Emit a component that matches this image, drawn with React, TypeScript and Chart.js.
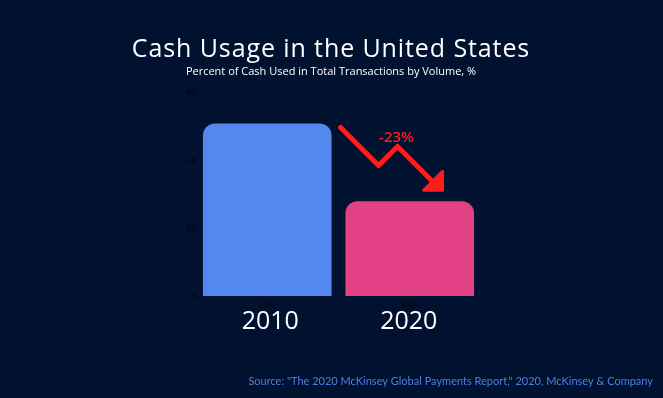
import React, { useEffect, useRef } from "react";
import { Chart, registerables } from "chart.js";

Chart.register(...registerables);

const categories = ["2010", "2020"];
const cashShare = [51, 28];
const yTickValues = [0, 20, 40, 60];
const changeLabel = "-23%";
const titleText = "Cash Usage in the United States";
const subtitleText = "Percent of Cash Used in Total Transactions by Volume, %";
const sourceText = 'Source: "The 2020 McKinsey Global Payments Report," 2020, McKinsey & Company';

const BG = "#011230";
const BAR_COLORS = ["#5588ee", "#e34185"];
const RED = "#ff1c1c";

const decor = {
  id: "decor",
  beforeDraw(chart: any) {
    const { ctx, width, height } = chart;
    ctx.save();
    ctx.fillStyle = BG;
    ctx.fillRect(0, 0, width, height);
    ctx.restore();
  },
  afterDraw(chart: any) {
    const { ctx } = chart;
    const meta = chart.getDatasetMeta(0);
    const b0 = meta.data[0] as any;
    const b1 = meta.data[1] as any;
    ctx.save();
    ctx.fillStyle = "#ffffff";
    ctx.textAlign = "center";
    ctx.textBaseline = "middle";
    (ctx as any).letterSpacing = "0.9px";
    ctx.font = "500 25px 'Open Sans'";
    ctx.fillText(titleText, 331, 50);
    (ctx as any).letterSpacing = "0px";
    ctx.font = "500 11px 'Open Sans'";
    ctx.fillText(subtitleText, 331, 72);
    ctx.font = "500 25px 'Open Sans'";
    categories.forEach((c, i) => {
      const el = meta.data[i] as any;
      ctx.fillText(c, el.x + (i === 0 ? 3 : -1), 322);
    });
    ctx.textAlign = "right";
    ctx.font = "11px Lato";
    ctx.fillStyle = "#4e7fe0";
    ctx.fillText(sourceText, 653, 381);

    const x0 = b0.x + b0.width / 2 + 9;
    const y0 = b0.y + 4;
    const pts = [
      [x0, y0],
      [x0 + 38, y0 + 38],
      [x0 + 57, y0 + 19],
      [x0 + 92, y0 + 54],
    ];
    ctx.strokeStyle = RED;
    ctx.lineWidth = 5;
    ctx.lineCap = "round";
    ctx.lineJoin = "round";
    ctx.beginPath();
    ctx.moveTo(pts[0][0], pts[0][1]);
    for (let i = 1; i < pts.length; i++) ctx.lineTo(pts[i][0], pts[i][1]);
    ctx.stroke();
    const tx = x0 + 102;
    const ty = b1.y - 11;
    ctx.fillStyle = RED;
    ctx.beginPath();
    ctx.moveTo(tx, ty - 19);
    ctx.lineTo(tx, ty);
    ctx.lineTo(tx - 19, ty);
    ctx.closePath();
    ctx.lineWidth = 3;
    ctx.fill();
    ctx.stroke();
    ctx.textAlign = "center";
    ctx.font = "600 15px 'Open Sans'";
    ctx.fillStyle = RED;
    ctx.fillText(changeLabel, x0 + 56, y0 + 10);
    ctx.restore();
  },
};

export default function App() {
  const ref = useRef<HTMLCanvasElement>(null);
  useEffect(() => {
    if (!ref.current) return;
    const chart = new Chart(ref.current, {
      type: "bar",
      data: {
        labels: categories,
        datasets: [
          {
            data: cashShare,
            backgroundColor: BAR_COLORS,
            borderRadius: { topLeft: 12, topRight: 12, bottomLeft: 0, bottomRight: 0 },
            borderSkipped: false,
            categoryPercentage: 0.95,
            barPercentage: 0.95,
          },
        ],
      },
      options: {
        responsive: false,
        animation: false,
        layout: { padding: { left: 150, right: 182, top: 93, bottom: 82 } },
        plugins: { legend: { display: false }, tooltip: { enabled: false }, title: { display: false } },
        scales: {
          x: {
            grid: { display: false, drawTicks: false },
            border: { display: false },
            ticks: { color: "#000000", font: { size: 7, family: "'Open Sans'" }, padding: 5 },
            afterFit: (s: any) => {
              s.height = 20;
            },
          },
          y: {
            min: 0,
            max: 60,
            grid: { display: false, drawTicks: false },
            border: { display: false },
            afterBuildTicks: (s: any) => {
              s.ticks = yTickValues.map((v) => ({ value: v }));
            },
            ticks: { color: "#000000", font: { size: 8, family: "'Open Sans'" }, padding: 0 },
            afterFit: (s: any) => {
              s.width = 46;
            },
          },
        },
      },
      plugins: [decor],
    });
    return () => chart.destroy();
  }, []);
  return (
    <div style={{ position: "fixed", left: 0, top: 0, width: 663, height: 398, background: BG }}>
      <canvas ref={ref} width={663} height={398} style={{ display: "block", width: 663, height: 398 }} />
    </div>
  );
}
